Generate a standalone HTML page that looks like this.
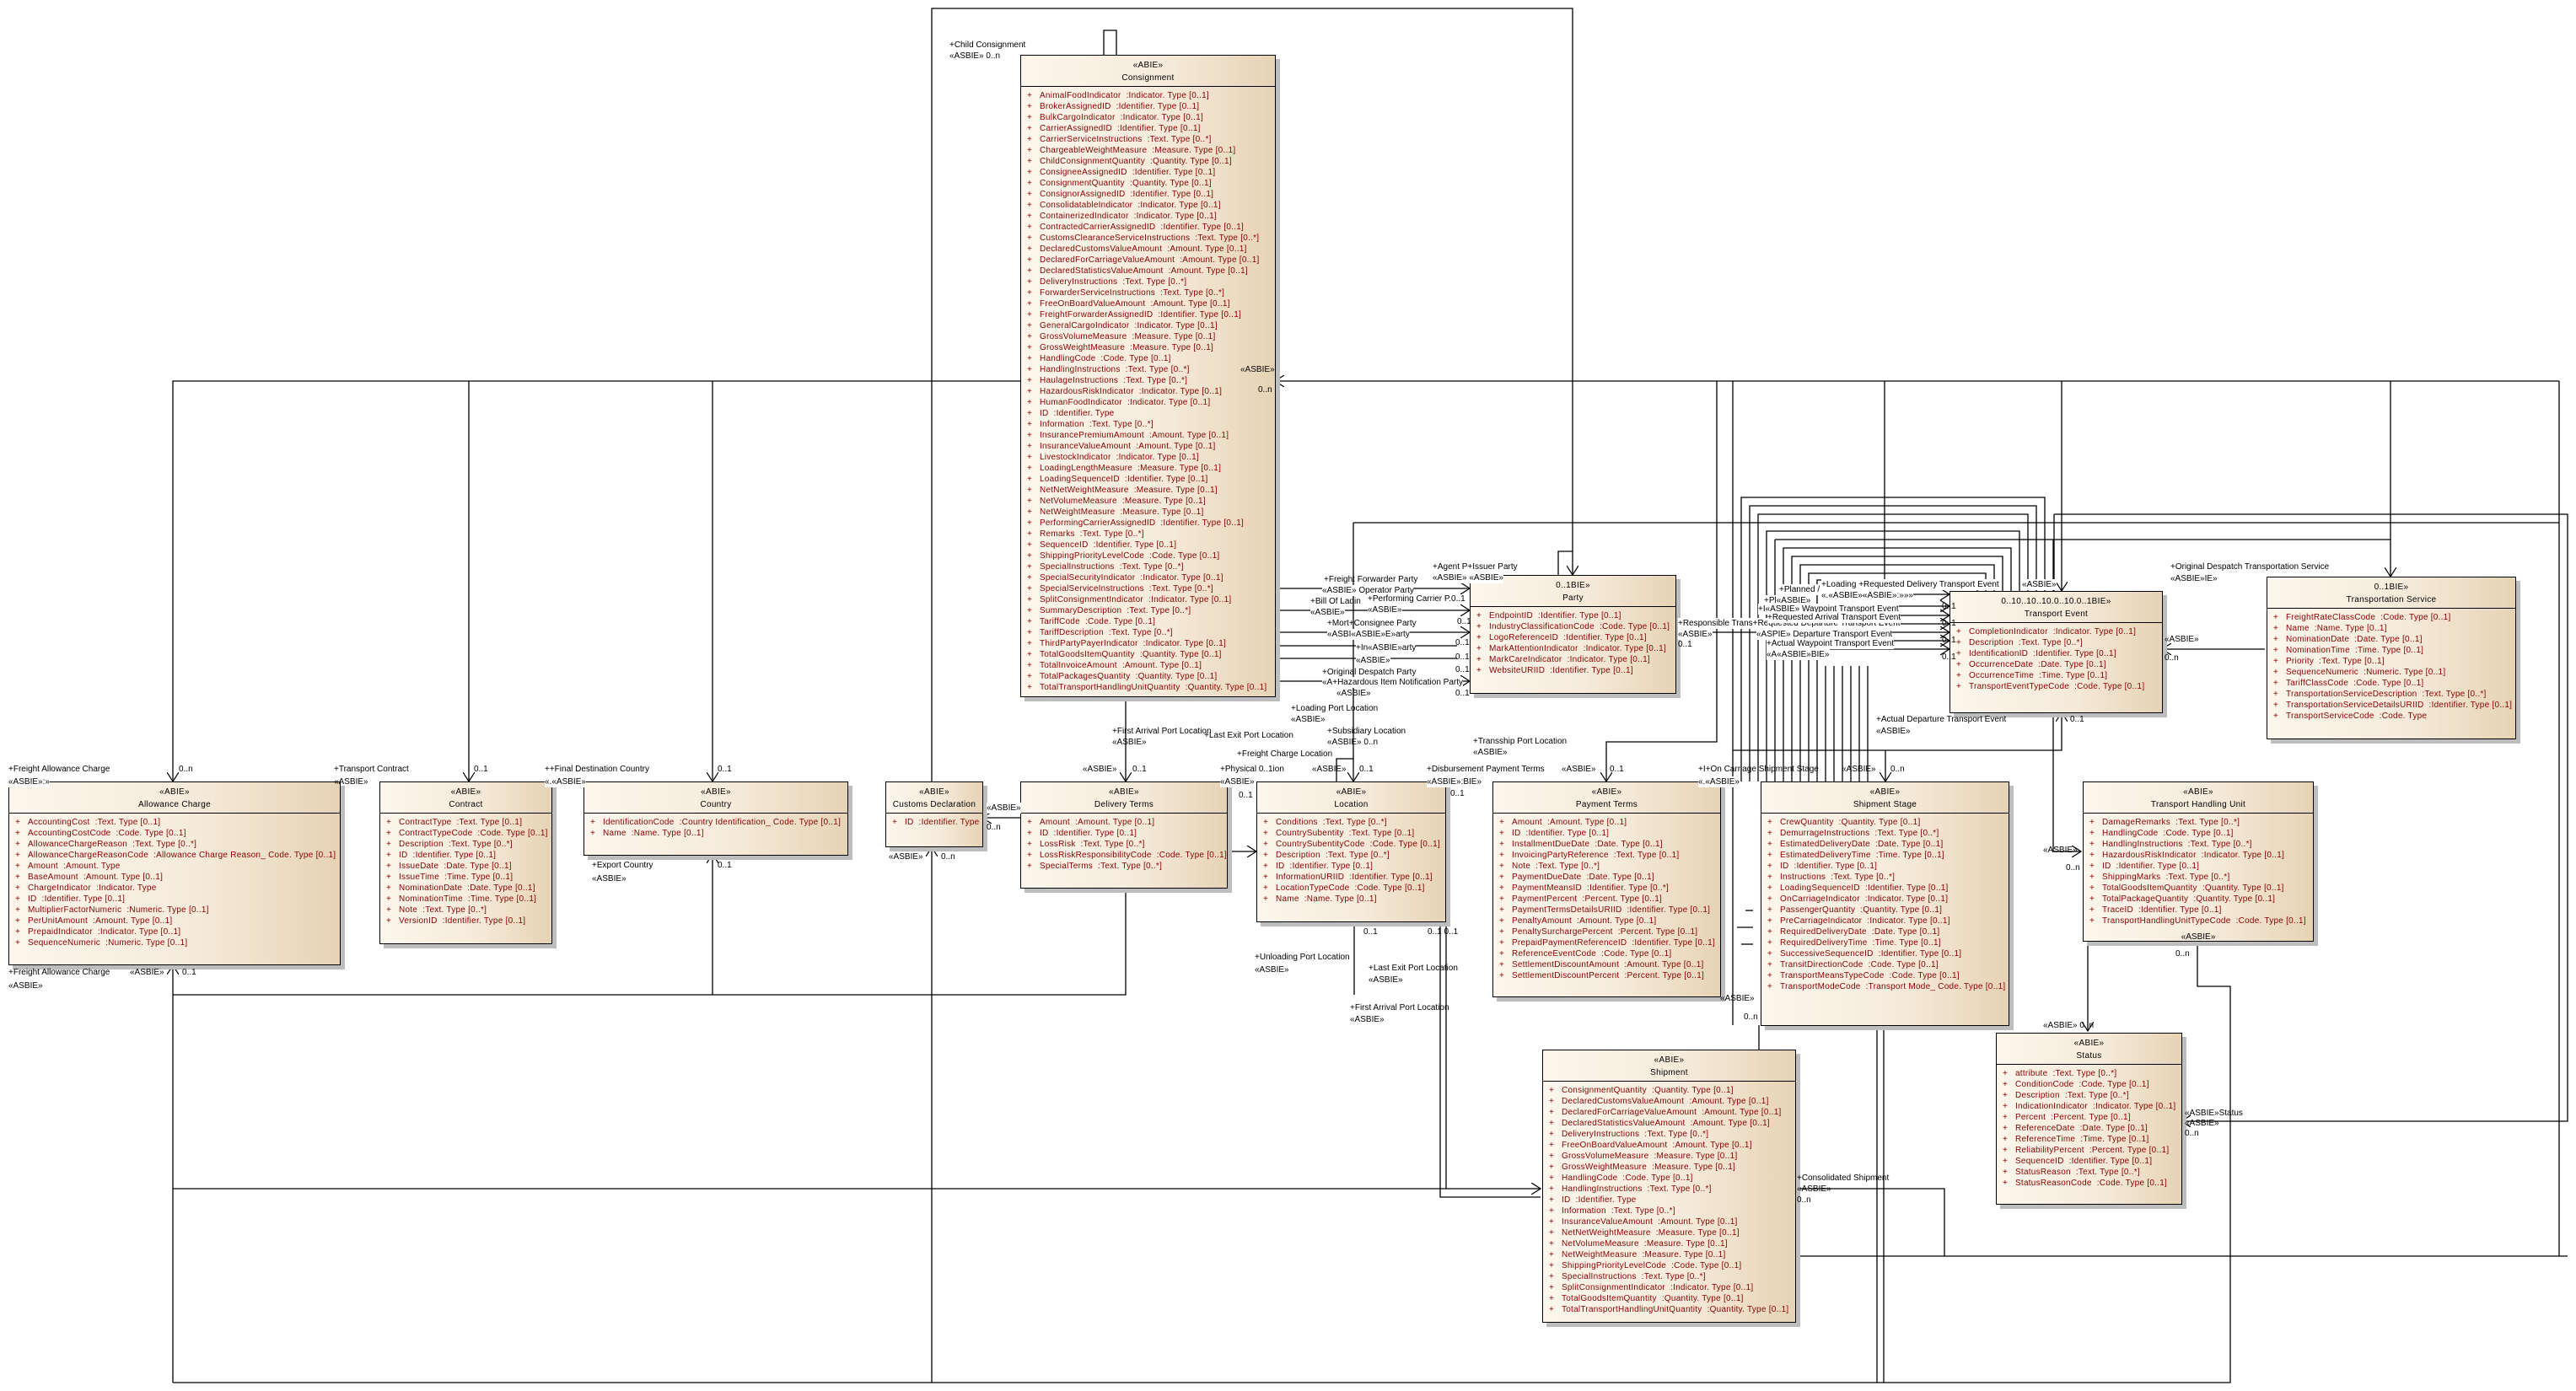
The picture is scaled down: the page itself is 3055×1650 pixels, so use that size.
<!DOCTYPE html>
<html><head><meta charset="utf-8">
<style>
body{margin:0;width:3055px;height:1650px;background:#fff;position:relative;overflow:hidden;font-family:"Liberation Sans",sans-serif;font-size:10px;}
svg{position:absolute;left:0;top:0}
.b{position:absolute;border:1px solid #000;background:linear-gradient(to right,#fcf6ec,#f6ebdb 55%,#e6d3b5);box-shadow:5px 5px 0 #bdbdbd;box-sizing:border-box;overflow:hidden}
.h{height:37px;border-bottom:1px solid #000;text-align:center;line-height:15px;padding-top:4px;box-sizing:border-box;white-space:nowrap;letter-spacing:0.3px}
.rs{padding-top:4px}
.r{height:13px;line-height:13px;color:#8b0000;white-space:pre;padding-left:22px;position:relative;letter-spacing:0.25px}
.r:before{content:"+";position:absolute;left:7px}
.l{position:absolute;white-space:nowrap;line-height:13px;background:#fff}
.n{position:absolute;white-space:nowrap;line-height:13px}
</style></head><body>
<svg width="3055" height="1650" viewBox="0 0 3055 1650">
<defs><marker id="a" markerWidth="12" markerHeight="14" refX="11" refY="7" orient="auto" markerUnits="userSpaceOnUse"><path d="M0,0 L11,7 L0,14" fill="none" stroke="#000" stroke-width="1.2"/></marker></defs>
<g fill="none" stroke="#000" stroke-width="1.3">
<path d="M1105,1005 L1105,10 L1865,10 L1865,682" marker-end="url(#a)"/>
<path d="M1105,1640 L1105,1005" marker-end="url(#a)"/>
<path d="M1848,682 L1848,654 L1865,654" />
<path d="M1309,65 L1309,36 L1324,36 L1324,65"/>
<path d="M1210,452 L205,452 L205,927" marker-end="url(#a)"/>
<path d="M556,452 L556,927" marker-end="url(#a)"/>
<path d="M845,452 L845,927" marker-end="url(#a)"/>
<path d="M3035,452 L1512,452" marker-end="url(#a)"/>
<path d="M3035,452 L3035,1490"/>
<path d="M205,1640 L205,1145" marker-end="url(#a)"/>
<path d="M205,1640 L2645,1640 L2645,1170 L2606,1170 L2606,1116"/>
<path d="M205,1180 L1335,1180 L1335,1054"/>
<path d="M845,1180 L845,1013" marker-end="url(#a)"/>
<path d="M1335,826 L1335,927" marker-end="url(#a)"/>
<path d="M205,1410 L1827,1410" marker-end="url(#a)"/>
<path d="M1210,970 L1165,970" marker-end="url(#a)"/>
<path d="M1455,1010 L1490,1010" marker-end="url(#a)"/>
<path d="M1708,1093 L1708,1420 L1827,1420"/>
<path d="M1715,1093 L1715,1410"/>
<path d="M1606,1093 L1606,1180"/>
<path d="M1605,620 L1605,927" marker-end="url(#a)"/>
<path d="M1585,927 L1585,900 L1605,900"/>
<path d="M1605,620 L3035,620"/>
<path d="M2036,452 L2036,880 L1905,880 L1905,927" marker-end="url(#a)"/>
<path d="M2055,452 L2055,701"/>
<path d="M2235,452 L2235,701"/>
<path d="M2445,452 L2445,701" marker-end="url(#a)"/>
<path d="M2835,452 L2835,684" marker-end="url(#a)"/>
<path d="M2105,640 L2835,640"/>
<path d="M2105,640 L2105,927"/>
<path d="M2436,610 L3045,610 L3045,1330 L2587,1330" marker-end="url(#a)"/>
<path d="M2436,610 L2436,701"/>
<path d="M2686,770 L2564,770" marker-end="url(#a)"/>
<path d="M2055,701 L2055,1216"/>
<path d="M2055,890 L2445,890 L2445,845" marker-end="url(#a)"/>
<path d="M1987,750 L2312,750" marker-end="url(#a)"/>
<path d="M2140,719 L2312,719" marker-end="url(#a)"/>
<path d="M2140,730 L2312,730" marker-end="url(#a)"/>
<path d="M2140,740 L2312,740" marker-end="url(#a)"/>
<path d="M2140,760 L2312,760" marker-end="url(#a)"/>
<path d="M2140,770 L2312,770" marker-end="url(#a)"/>
<path d="M2200,705 L2312,705" marker-end="url(#a)"/>
<path d="M1512,698 L1743,698" marker-end="url(#a)"/>
<path d="M1512,724 L1743,724" marker-end="url(#a)"/>
<path d="M1512,750 L1743,750" marker-end="url(#a)"/>
<path d="M1512,766 L1728,766"/>
<path d="M1512,781 L1728,781"/>
<path d="M1512,808 L1743,808" marker-end="url(#a)"/>
<path d="M2236,890 L2236,927" marker-end="url(#a)"/>
<path d="M2435,640 L2435,1010 L2468,1010" marker-end="url(#a)"/>
<path d="M2476,1116 L2476,1223" marker-end="url(#a)"/>
<path d="M2086,1216 L2086,1245"/>
<path d="M2129,1410 L2306,1410 L2306,1490"/>
<path d="M2129,1490 L3045,1490"/>
<path d="M2226,1216 L2226,1640"/>
<path d="M2234,1216 L2234,1640"/>
<path d="M2070,1080 L2079,1080"/><path d="M2060,1100 L2079,1100"/><path d="M2065,1120 L2079,1120"/>
<path d="M2065,927 L2065,590 L2425,590 L2425,701"/>
<path d="M2075,927 L2075,600 L2415,600 L2415,701"/>
<path d="M2085,927 L2085,610 L2405,610 L2405,701"/>
<path d="M2095,927 L2095,630 L2395,630 L2395,701"/>
<path d="M2115,927 L2115,650 L2385,650 L2385,701"/>
<path d="M2125,927 L2125,660 L2375,660 L2375,701"/>
<path d="M2135,927 L2135,670 L2365,670 L2365,701"/>
<path d="M2145,927 L2145,680 L2355,680 L2355,701"/>
<path d="M2155,927 L2155,688 L2345,688 L2345,701"/>
<path d="M2165,790 L2165,927"/><path d="M2175,790 L2175,927"/><path d="M2185,790 L2185,927"/><path d="M2195,790 L2195,927"/><path d="M2205,790 L2205,927"/><path d="M2215,790 L2215,927"/>
</g>
</svg>

<div class="b" style="left:1210px;top:65px;width:303px;height:762px">
<div class="h">«ABIE»<br>Consignment</div><div class="rs">
<div class="r">AnimalFoodIndicator  :Indicator. Type [0..1]</div>
<div class="r">BrokerAssignedID  :Identifier. Type [0..1]</div>
<div class="r">BulkCargoIndicator  :Indicator. Type [0..1]</div>
<div class="r">CarrierAssignedID  :Identifier. Type [0..1]</div>
<div class="r">CarrierServiceInstructions  :Text. Type [0..*]</div>
<div class="r">ChargeableWeightMeasure  :Measure. Type [0..1]</div>
<div class="r">ChildConsignmentQuantity  :Quantity. Type [0..1]</div>
<div class="r">ConsigneeAssignedID  :Identifier. Type [0..1]</div>
<div class="r">ConsignmentQuantity  :Quantity. Type [0..1]</div>
<div class="r">ConsignorAssignedID  :Identifier. Type [0..1]</div>
<div class="r">ConsolidatableIndicator  :Indicator. Type [0..1]</div>
<div class="r">ContainerizedIndicator  :Indicator. Type [0..1]</div>
<div class="r">ContractedCarrierAssignedID  :Identifier. Type [0..1]</div>
<div class="r">CustomsClearanceServiceInstructions  :Text. Type [0..*]</div>
<div class="r">DeclaredCustomsValueAmount  :Amount. Type [0..1]</div>
<div class="r">DeclaredForCarriageValueAmount  :Amount. Type [0..1]</div>
<div class="r">DeclaredStatisticsValueAmount  :Amount. Type [0..1]</div>
<div class="r">DeliveryInstructions  :Text. Type [0..*]</div>
<div class="r">ForwarderServiceInstructions  :Text. Type [0..*]</div>
<div class="r">FreeOnBoardValueAmount  :Amount. Type [0..1]</div>
<div class="r">FreightForwarderAssignedID  :Identifier. Type [0..1]</div>
<div class="r">GeneralCargoIndicator  :Indicator. Type [0..1]</div>
<div class="r">GrossVolumeMeasure  :Measure. Type [0..1]</div>
<div class="r">GrossWeightMeasure  :Measure. Type [0..1]</div>
<div class="r">HandlingCode  :Code. Type [0..1]</div>
<div class="r">HandlingInstructions  :Text. Type [0..*]</div>
<div class="r">HaulageInstructions  :Text. Type [0..*]</div>
<div class="r">HazardousRiskIndicator  :Indicator. Type [0..1]</div>
<div class="r">HumanFoodIndicator  :Indicator. Type [0..1]</div>
<div class="r">ID  :Identifier. Type</div>
<div class="r">Information  :Text. Type [0..*]</div>
<div class="r">InsurancePremiumAmount  :Amount. Type [0..1]</div>
<div class="r">InsuranceValueAmount  :Amount. Type [0..1]</div>
<div class="r">LivestockIndicator  :Indicator. Type [0..1]</div>
<div class="r">LoadingLengthMeasure  :Measure. Type [0..1]</div>
<div class="r">LoadingSequenceID  :Identifier. Type [0..1]</div>
<div class="r">NetNetWeightMeasure  :Measure. Type [0..1]</div>
<div class="r">NetVolumeMeasure  :Measure. Type [0..1]</div>
<div class="r">NetWeightMeasure  :Measure. Type [0..1]</div>
<div class="r">PerformingCarrierAssignedID  :Identifier. Type [0..1]</div>
<div class="r">Remarks  :Text. Type [0..*]</div>
<div class="r">SequenceID  :Identifier. Type [0..1]</div>
<div class="r">ShippingPriorityLevelCode  :Code. Type [0..1]</div>
<div class="r">SpecialInstructions  :Text. Type [0..*]</div>
<div class="r">SpecialSecurityIndicator  :Indicator. Type [0..1]</div>
<div class="r">SpecialServiceInstructions  :Text. Type [0..*]</div>
<div class="r">SplitConsignmentIndicator  :Indicator. Type [0..1]</div>
<div class="r">SummaryDescription  :Text. Type [0..*]</div>
<div class="r">TariffCode  :Code. Type [0..1]</div>
<div class="r">TariffDescription  :Text. Type [0..*]</div>
<div class="r">ThirdPartyPayerIndicator  :Indicator. Type [0..1]</div>
<div class="r">TotalGoodsItemQuantity  :Quantity. Type [0..1]</div>
<div class="r">TotalInvoiceAmount  :Amount. Type [0..1]</div>
<div class="r">TotalPackagesQuantity  :Quantity. Type [0..1]</div>
<div class="r">TotalTransportHandlingUnitQuantity  :Quantity. Type [0..1]</div>
</div></div>

<div class="b" style="left:1743px;top:682px;width:245px;height:141px">
<div class="h">0..1BIE»<br>Party</div><div class="rs">
<div class="r">EndpointID  :Identifier. Type [0..1]</div>
<div class="r">IndustryClassificationCode  :Code. Type [0..1]</div>
<div class="r">LogoReferenceID  :Identifier. Type [0..1]</div>
<div class="r">MarkAttentionIndicator  :Indicator. Type [0..1]</div>
<div class="r">MarkCareIndicator  :Indicator. Type [0..1]</div>
<div class="r">WebsiteURIID  :Identifier. Type [0..1]</div>
</div></div>

<div class="b" style="left:2312px;top:701px;width:253px;height:145px">
<div class="h">0..10..10..10.0..10.0..1BIE»<br>Transport Event</div><div class="rs">
<div class="r">CompletionIndicator  :Indicator. Type [0..1]</div>
<div class="r">Description  :Text. Type [0..*]</div>
<div class="r">IdentificationID  :Identifier. Type [0..1]</div>
<div class="r">OccurrenceDate  :Date. Type [0..1]</div>
<div class="r">OccurrenceTime  :Time. Type [0..1]</div>
<div class="r">TransportEventTypeCode  :Code. Type [0..1]</div>
</div></div>

<div class="b" style="left:2688px;top:684px;width:296px;height:193px">
<div class="h">0..1BIE»<br>Transportation Service</div><div class="rs">
<div class="r">FreightRateClassCode  :Code. Type [0..1]</div>
<div class="r">Name  :Name. Type [0..1]</div>
<div class="r">NominationDate  :Date. Type [0..1]</div>
<div class="r">NominationTime  :Time. Type [0..1]</div>
<div class="r">Priority  :Text. Type [0..1]</div>
<div class="r">SequenceNumeric  :Numeric. Type [0..1]</div>
<div class="r">TariffClassCode  :Code. Type [0..1]</div>
<div class="r">TransportationServiceDescription  :Text. Type [0..*]</div>
<div class="r">TransportationServiceDetailsURIID  :Identifier. Type [0..1]</div>
<div class="r">TransportServiceCode  :Code. Type</div>
</div></div>

<div class="b" style="left:10px;top:927px;width:394px;height:218px">
<div class="h">«ABIE»<br>Allowance Charge</div><div class="rs">
<div class="r">AccountingCost  :Text. Type [0..1]</div>
<div class="r">AccountingCostCode  :Code. Type [0..1]</div>
<div class="r">AllowanceChargeReason  :Text. Type [0..*]</div>
<div class="r">AllowanceChargeReasonCode  :Allowance Charge Reason_ Code. Type [0..1]</div>
<div class="r">Amount  :Amount. Type</div>
<div class="r">BaseAmount  :Amount. Type [0..1]</div>
<div class="r">ChargeIndicator  :Indicator. Type</div>
<div class="r">ID  :Identifier. Type [0..1]</div>
<div class="r">MultiplierFactorNumeric  :Numeric. Type [0..1]</div>
<div class="r">PerUnitAmount  :Amount. Type [0..1]</div>
<div class="r">PrepaidIndicator  :Indicator. Type [0..1]</div>
<div class="r">SequenceNumeric  :Numeric. Type [0..1]</div>
</div></div>

<div class="b" style="left:450px;top:927px;width:205px;height:193px">
<div class="h">«ABIE»<br>Contract</div><div class="rs">
<div class="r">ContractType  :Text. Type [0..1]</div>
<div class="r">ContractTypeCode  :Code. Type [0..1]</div>
<div class="r">Description  :Text. Type [0..*]</div>
<div class="r">ID  :Identifier. Type [0..1]</div>
<div class="r">IssueDate  :Date. Type [0..1]</div>
<div class="r">IssueTime  :Time. Type [0..1]</div>
<div class="r">NominationDate  :Date. Type [0..1]</div>
<div class="r">NominationTime  :Time. Type [0..1]</div>
<div class="r">Note  :Text. Type [0..*]</div>
<div class="r">VersionID  :Identifier. Type [0..1]</div>
</div></div>

<div class="b" style="left:692px;top:927px;width:314px;height:88px">
<div class="h">«ABIE»<br>Country</div><div class="rs">
<div class="r">IdentificationCode  :Country Identification_ Code. Type [0..1]</div>
<div class="r">Name  :Name. Type [0..1]</div>
</div></div>

<div class="b" style="left:1050px;top:927px;width:116px;height:78px">
<div class="h">«ABIE»<br>Customs Declaration</div><div class="rs">
<div class="r">ID  :Identifier. Type</div>
</div></div>

<div class="b" style="left:1210px;top:927px;width:246px;height:127px">
<div class="h">«ABIE»<br>Delivery Terms</div><div class="rs">
<div class="r">Amount  :Amount. Type [0..1]</div>
<div class="r">ID  :Identifier. Type [0..1]</div>
<div class="r">LossRisk  :Text. Type [0..*]</div>
<div class="r">LossRiskResponsibilityCode  :Code. Type [0..1]</div>
<div class="r">SpecialTerms  :Text. Type [0..*]</div>
</div></div>

<div class="b" style="left:1490px;top:927px;width:225px;height:167px">
<div class="h">«ABIE»<br>Location</div><div class="rs">
<div class="r">Conditions  :Text. Type [0..*]</div>
<div class="r">CountrySubentity  :Text. Type [0..1]</div>
<div class="r">CountrySubentityCode  :Code. Type [0..1]</div>
<div class="r">Description  :Text. Type [0..*]</div>
<div class="r">ID  :Identifier. Type [0..1]</div>
<div class="r">InformationURIID  :Identifier. Type [0..1]</div>
<div class="r">LocationTypeCode  :Code. Type [0..1]</div>
<div class="r">Name  :Name. Type [0..1]</div>
</div></div>

<div class="b" style="left:1770px;top:927px;width:271px;height:256px">
<div class="h">«ABIE»<br>Payment Terms</div><div class="rs">
<div class="r">Amount  :Amount. Type [0..1]</div>
<div class="r">ID  :Identifier. Type [0..1]</div>
<div class="r">InstallmentDueDate  :Date. Type [0..1]</div>
<div class="r">InvoicingPartyReference  :Text. Type [0..1]</div>
<div class="r">Note  :Text. Type [0..*]</div>
<div class="r">PaymentDueDate  :Date. Type [0..1]</div>
<div class="r">PaymentMeansID  :Identifier. Type [0..*]</div>
<div class="r">PaymentPercent  :Percent. Type [0..1]</div>
<div class="r">PaymentTermsDetailsURIID  :Identifier. Type [0..1]</div>
<div class="r">PenaltyAmount  :Amount. Type [0..1]</div>
<div class="r">PenaltySurchargePercent  :Percent. Type [0..1]</div>
<div class="r">PrepaidPaymentReferenceID  :Identifier. Type [0..1]</div>
<div class="r">ReferenceEventCode  :Code. Type [0..1]</div>
<div class="r">SettlementDiscountAmount  :Amount. Type [0..1]</div>
<div class="r">SettlementDiscountPercent  :Percent. Type [0..1]</div>
</div></div>

<div class="b" style="left:2088px;top:927px;width:295px;height:290px">
<div class="h">«ABIE»<br>Shipment Stage</div><div class="rs">
<div class="r">CrewQuantity  :Quantity. Type [0..1]</div>
<div class="r">DemurrageInstructions  :Text. Type [0..*]</div>
<div class="r">EstimatedDeliveryDate  :Date. Type [0..1]</div>
<div class="r">EstimatedDeliveryTime  :Time. Type [0..1]</div>
<div class="r">ID  :Identifier. Type [0..1]</div>
<div class="r">Instructions  :Text. Type [0..*]</div>
<div class="r">LoadingSequenceID  :Identifier. Type [0..1]</div>
<div class="r">OnCarriageIndicator  :Indicator. Type [0..1]</div>
<div class="r">PassengerQuantity  :Quantity. Type [0..1]</div>
<div class="r">PreCarriageIndicator  :Indicator. Type [0..1]</div>
<div class="r">RequiredDeliveryDate  :Date. Type [0..1]</div>
<div class="r">RequiredDeliveryTime  :Time. Type [0..1]</div>
<div class="r">SuccessiveSequenceID  :Identifier. Type [0..1]</div>
<div class="r">TransitDirectionCode  :Code. Type [0..1]</div>
<div class="r">TransportMeansTypeCode  :Code. Type [0..1]</div>
<div class="r">TransportModeCode  :Transport Mode_ Code. Type [0..1]</div>
</div></div>

<div class="b" style="left:2470px;top:927px;width:274px;height:190px">
<div class="h">«ABIE»<br>Transport Handling Unit</div><div class="rs">
<div class="r">DamageRemarks  :Text. Type [0..*]</div>
<div class="r">HandlingCode  :Code. Type [0..1]</div>
<div class="r">HandlingInstructions  :Text. Type [0..*]</div>
<div class="r">HazardousRiskIndicator  :Indicator. Type [0..1]</div>
<div class="r">ID  :Identifier. Type [0..1]</div>
<div class="r">ShippingMarks  :Text. Type [0..*]</div>
<div class="r">TotalGoodsItemQuantity  :Quantity. Type [0..1]</div>
<div class="r">TotalPackageQuantity  :Quantity. Type [0..1]</div>
<div class="r">TraceID  :Identifier. Type [0..1]</div>
<div class="r">TransportHandlingUnitTypeCode  :Code. Type [0..1]</div>
<div style="text-align:center;line-height:13px;margin-top:6px">«ASBIE»</div>
</div></div>

<div class="b" style="left:2367px;top:1225px;width:221px;height:204px">
<div class="h">«ABIE»<br>Status</div><div class="rs">
<div class="r">attribute  :Text. Type [0..*]</div>
<div class="r">ConditionCode  :Code. Type [0..1]</div>
<div class="r">Description  :Text. Type [0..*]</div>
<div class="r">IndicationIndicator  :Indicator. Type [0..1]</div>
<div class="r">Percent  :Percent. Type [0..1]</div>
<div class="r">ReferenceDate  :Date. Type [0..1]</div>
<div class="r">ReferenceTime  :Time. Type [0..1]</div>
<div class="r">ReliabilityPercent  :Percent. Type [0..1]</div>
<div class="r">SequenceID  :Identifier. Type [0..1]</div>
<div class="r">StatusReason  :Text. Type [0..*]</div>
<div class="r">StatusReasonCode  :Code. Type [0..1]</div>
</div></div>

<div class="b" style="left:1829px;top:1245px;width:301px;height:324px">
<div class="h">«ABIE»<br>Shipment</div><div class="rs">
<div class="r">ConsignmentQuantity  :Quantity. Type [0..1]</div>
<div class="r">DeclaredCustomsValueAmount  :Amount. Type [0..1]</div>
<div class="r">DeclaredForCarriageValueAmount  :Amount. Type [0..1]</div>
<div class="r">DeclaredStatisticsValueAmount  :Amount. Type [0..1]</div>
<div class="r">DeliveryInstructions  :Text. Type [0..*]</div>
<div class="r">FreeOnBoardValueAmount  :Amount. Type [0..1]</div>
<div class="r">GrossVolumeMeasure  :Measure. Type [0..1]</div>
<div class="r">GrossWeightMeasure  :Measure. Type [0..1]</div>
<div class="r">HandlingCode  :Code. Type [0..1]</div>
<div class="r">HandlingInstructions  :Text. Type [0..*]</div>
<div class="r">ID  :Identifier. Type</div>
<div class="r">Information  :Text. Type [0..*]</div>
<div class="r">InsuranceValueAmount  :Amount. Type [0..1]</div>
<div class="r">NetNetWeightMeasure  :Measure. Type [0..1]</div>
<div class="r">NetVolumeMeasure  :Measure. Type [0..1]</div>
<div class="r">NetWeightMeasure  :Measure. Type [0..1]</div>
<div class="r">ShippingPriorityLevelCode  :Code. Type [0..1]</div>
<div class="r">SpecialInstructions  :Text. Type [0..*]</div>
<div class="r">SplitConsignmentIndicator  :Indicator. Type [0..1]</div>
<div class="r">TotalGoodsItemQuantity  :Quantity. Type [0..1]</div>
<div class="r">TotalTransportHandlingUnitQuantity  :Quantity. Type [0..1]</div>
</div></div>

<div class="n" style="left:1126px;top:47px">+Child Consignment</div>
<div class="n" style="left:1126px;top:60px">«ASBIE» 0..n</div>
<div class="n" style="left:1471px;top:432px">«ASBIE»</div>
<div class="n" style="left:1492px;top:456px">0..n</div>
<div class="n" style="left:10px;top:906px">+Freight Allowance Charge</div>
<div class="l" style="left:10px;top:921px">«ASBIE»:»</div>
<div class="n" style="left:212px;top:906px">0..n</div>
<div class="n" style="left:396px;top:906px">+Transport Contract</div>
<div class="n" style="left:396px;top:921px">«ASBIE»</div>
<div class="n" style="left:562px;top:906px">0..1</div>
<div class="n" style="left:646px;top:906px">++Final Destination Country</div>
<div class="l" style="left:646px;top:921px">«.«ASBIE»</div>
<div class="n" style="left:851px;top:906px">0..1</div>
<div class="n" style="left:10px;top:1147px">+Freight Allowance Charge</div>
<div class="n" style="left:10px;top:1163px">«ASBIE»</div>
<div class="n" style="left:154px;top:1147px">«ASBIE»</div>
<div class="n" style="left:216px;top:1147px">0..1</div>
<div class="n" style="left:702px;top:1020px">+Export Country</div>
<div class="n" style="left:702px;top:1036px">«ASBIE»</div>
<div class="n" style="left:851px;top:1020px">0..1</div>
<div class="n" style="left:1054px;top:1010px">«ASBIE»</div>
<div class="n" style="left:1116px;top:1010px">0..n</div>
<div class="l" style="left:1170px;top:952px">«ASBIE»</div>
<div class="n" style="left:1170px;top:975px">0..n</div>
<div class="n" style="left:1284px;top:906px">«ASBIE»</div>
<div class="n" style="left:1343px;top:906px">0..1</div>
<div class="n" style="left:1319px;top:861px">+First Arrival Port Location</div>
<div class="n" style="left:1319px;top:874px">«ASBIE»</div>
<div class="n" style="left:1428px;top:866px">+Last Exit Port Location</div>
<div class="n" style="left:1467px;top:888px">+Freight Charge Location</div>
<div class="n" style="left:1447px;top:906px">+Physical 0..1ion</div>
<div class="l" style="left:1447px;top:921px">«ASBIE»</div>
<div class="n" style="left:1469px;top:937px">0..1</div>
<div class="n" style="left:1556px;top:906px">«ASBIE»</div>
<div class="n" style="left:1612px;top:906px">0..1</div>
<div class="n" style="left:1531px;top:834px">+Loading Port Location</div>
<div class="n" style="left:1531px;top:847px">«ASBIE»</div>
<div class="n" style="left:1574px;top:861px">+Subsidiary Location</div>
<div class="n" style="left:1574px;top:874px">«ASBIE» 0..n</div>
<div class="n" style="left:1692px;top:906px">+Disbursement Payment Terms</div>
<div class="l" style="left:1692px;top:921px">«ASBIE»:BIE»</div>
<div class="n" style="left:1720px;top:935px">0..1</div>
<div class="n" style="left:1747px;top:873px">+Transship Port Location</div>
<div class="n" style="left:1747px;top:886px">«ASBIE»</div>
<div class="n" style="left:1852px;top:906px">«ASBIE»</div>
<div class="n" style="left:1909px;top:906px">0..1</div>
<div class="n" style="left:2014px;top:906px">+I+On Carriage Shipment Stage</div>
<div class="l" style="left:2014px;top:921px">«.«ASBIE»</div>
<div class="n" style="left:2184px;top:906px">«ASBIE»</div>
<div class="n" style="left:2242px;top:906px">0..n</div>
<div class="n" style="left:2225px;top:847px">+Actual Departure Transport Event</div>
<div class="n" style="left:2225px;top:861px">«ASBIE»</div>
<div class="n" style="left:2455px;top:847px">0..1</div>
<div class="n" style="left:2574px;top:666px">+Original Despatch Transportation Service</div>
<div class="n" style="left:2574px;top:680px">«ASBIE»IE»</div>
<div class="n" style="left:2567px;top:752px">«ASBIE»</div>
<div class="n" style="left:2567px;top:774px">0..n</div>
<div class="n" style="left:2423px;top:1002px">«ASBIE»</div>
<div class="n" style="left:2450px;top:1023px">0..n</div>
<div class="n" style="left:2580px;top:1125px">0..n</div>
<div class="n" style="left:2423px;top:1210px">«ASBIE» 0..n</div>
<div class="n" style="left:2591px;top:1314px">«ASBIE»Status</div>
<div class="n" style="left:2591px;top:1326px">«ASBIE»</div>
<div class="n" style="left:2591px;top:1338px">0..n</div>
<div class="n" style="left:2131px;top:1391px">+Consolidated Shipment</div>
<div class="n" style="left:2131px;top:1404px">«ASBIE»</div>
<div class="n" style="left:2131px;top:1417px">0..n</div>
<div class="n" style="left:2040px;top:1178px">«ASBIE»</div>
<div class="n" style="left:2068px;top:1200px">0..n</div>
<div class="n" style="left:1488px;top:1129px">+Unloading Port Location</div>
<div class="n" style="left:1488px;top:1144px">«ASBIE»</div>
<div class="n" style="left:1617px;top:1099px">0..1</div>
<div class="n" style="left:1623px;top:1142px">+Last Exit Port Location</div>
<div class="n" style="left:1623px;top:1156px">«ASBIE»</div>
<div class="n" style="left:1601px;top:1189px">+First Arrival Port Location</div>
<div class="n" style="left:1601px;top:1203px">«ASBIE»</div>
<div class="n" style="left:1693px;top:1099px">0..1 0..1</div>
<div class="n" style="left:1699px;top:666px">+Agent P+Issuer Party</div>
<div class="l" style="left:1699px;top:679px">«ASBIE» «ASBIE»</div>
<div class="n" style="left:1570px;top:681px">+Freight Forwarder Party</div>
<div class="l" style="left:1568px;top:694px">«ASBIE» Operator Party</div>
<div class="n" style="left:1622px;top:704px">+Performing Carrier P.0..1</div>
<div class="n" style="left:1554px;top:707px">+Bill Of Ladin</div>
<div class="l" style="left:1554px;top:720px">«ASBIE»</div>
<div class="l" style="left:1622px;top:717px">«ASBIE»</div>
<div class="n" style="left:1728px;top:731px">0..1</div>
<div class="n" style="left:1574px;top:733px">+Mort+Consignee Party</div>
<div class="l" style="left:1574px;top:746px">«ASBI«ASBIE»E»arty</div>
<div class="l" style="left:1608px;top:762px">+In«ASBIE»arty</div>
<div class="n" style="left:1726px;top:756px">0..1</div>
<div class="l" style="left:1608px;top:777px">«ASBIE»</div>
<div class="n" style="left:1726px;top:773px">0..1</div>
<div class="n" style="left:1568px;top:791px">+Original Despatch Party</div>
<div class="l" style="left:1568px;top:803px">«A+Hazardous Item Notification Party</div>
<div class="n" style="left:1585px;top:816px">«ASBIE»</div>
<div class="n" style="left:1726px;top:816px">0..1</div>
<div class="n" style="left:1726px;top:788px">0..1</div>
<div class="l" style="left:1990px;top:733px">+Responsible Trans+Requested Departure Transport Event</div>
<div class="l" style="left:1990px;top:746px">«ASBIE»</div>
<div class="n" style="left:1990px;top:758px">0..1</div>
<div class="l" style="left:2110px;top:693px">+Planned /</div>
<div class="l" style="left:2160px;top:687px">+Loading +Requested Delivery Transport Event</div>
<div class="l" style="left:2398px;top:687px">«ASBIE»</div>
<div class="l" style="left:2160px;top:700px">«.«ASBIE»«ASBIE»:»»»</div>
<div class="l" style="left:2092px;top:706px">+Pl«ASBIE»</div>
<div class="l" style="left:2085px;top:716px">+I«ASBIE» Waypoint Transport Event</div>
<div class="l" style="left:2096px;top:726px">+Requested Arrival Transport Event</div>
<div class="l" style="left:2083px;top:746px">«ASPIE» Departure Transport Event</div>
<div class="l" style="left:2095px;top:757px">+Actual Waypoint Transport Event</div>
<div class="l" style="left:2095px;top:770px">«A«ASBIE»BIE»</div>
<div class="n" style="left:2303px;top:713px">0..1</div>
<div class="n" style="left:2303px;top:733px">0..1</div>
<div class="n" style="left:2303px;top:753px">0..1</div>
<div class="n" style="left:2303px;top:773px">0..1</div>
</body></html>
